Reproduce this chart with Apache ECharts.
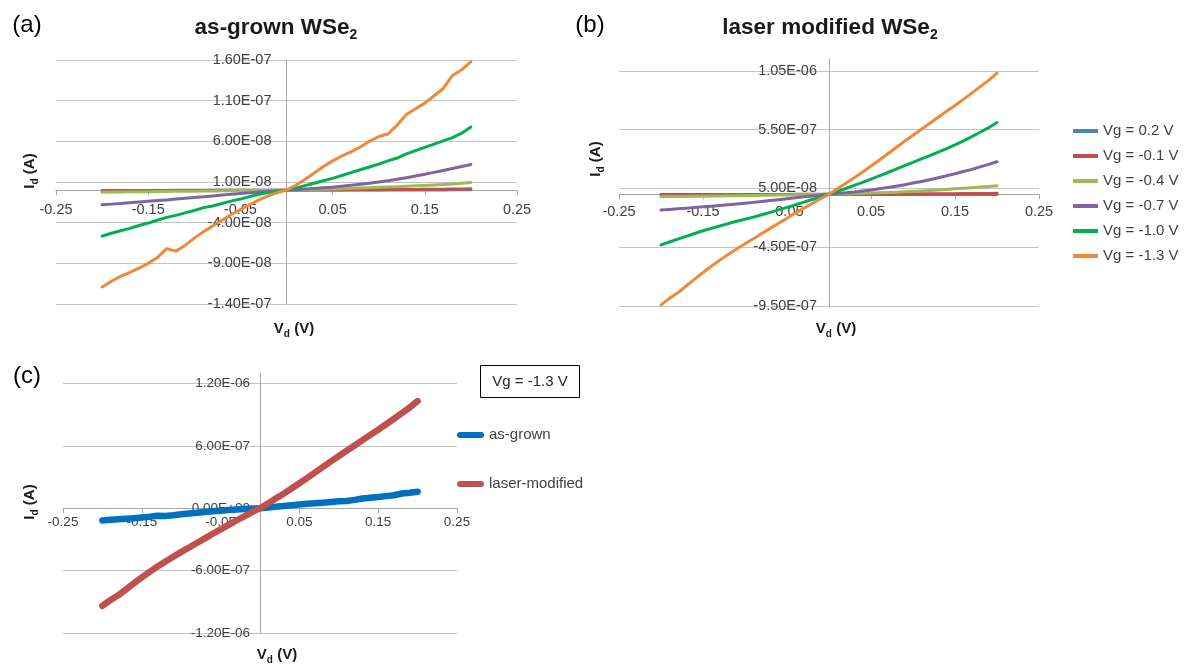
<!DOCTYPE html>
<html>
<head>
<meta charset="utf-8">
<script src="https://cdn.jsdelivr.net/npm/echarts@6/dist/echarts.min.js"></script>
<style>
  html, body { margin: 0; padding: 0; background: #ffffff; }
  #chart { width: 1186px; height: 668px; }
</style>
</head>
<body>
<div id="chart"></div>
<script>
// Drain voltage sweep (V)
const VD = [-0.20, -0.19, -0.18, -0.17, -0.16, -0.15, -0.14, -0.13, -0.12, -0.11,
            -0.10, -0.09, -0.08, -0.07, -0.06, -0.05, -0.04, -0.03, -0.02, -0.01,
             0.00,  0.01,  0.02,  0.03,  0.04,  0.05,  0.06,  0.07,  0.08,  0.09,
             0.10,  0.11,  0.12,  0.13,  0.14,  0.15,  0.16,  0.17,  0.18,  0.19, 0.20];

const VG_NAMES = ['Vg = 0.2 V', 'Vg = -0.1 V', 'Vg = -0.4 V', 'Vg = -0.7 V', 'Vg = -1.0 V', 'Vg = -1.3 V'];
const VG_COLORS = ['#4f81bd', '#c0504d', '#9bbb59', '#8064a2', '#00b050', '#f0883a'];

// As-grown WSe2, drain current in nA
const agVg02  = [-0.6,-0.6,-0.5,-0.5,-0.5,-0.4,-0.4,-0.4,-0.4,-0.3,-0.3,-0.3,-0.2,-0.2,-0.2,-0.1,-0.1,-0.1,-0.1,0,0,
                  0,0,0.1,0.1,0.1,0.1,0.1,0.2,0.2,0.2,0.2,0.2,0.3,0.3,0.3,0.3,0.3,0.4,0.4,0.4];
const agVgm01 = [-0.4,-0.4,-0.4,-0.3,-0.3,-0.3,-0.3,-0.3,-0.2,-0.2,-0.2,-0.2,-0.2,-0.1,-0.1,-0.1,-0.1,-0.1,0,0,0,
                  0.1,0.1,0.2,0.2,0.3,0.3,0.4,0.5,0.5,0.6,0.7,0.7,0.8,0.9,1.0,1.1,1.2,1.3,1.4,1.6];
const agVgm04 = [-2.5,-2.4,-2.3,-2.1,-2.0,-1.9,-1.8,-1.6,-1.5,-1.4,-1.3,-1.1,-1.0,-0.9,-0.8,-0.6,-0.5,-0.4,-0.3,-0.1,0,
                  0.2,0.5,0.8,1.1,1.4,1.8,2.1,2.5,2.9,3.4,3.8,4.3,4.8,5.3,5.8,6.4,7.0,7.6,8.5,9.4];
const agVgm07 = [-18,-17.2,-16.3,-15.4,-14.5,-13.6,-12.8,-12,-11,-10.1,-9.2,-8.2,-7.2,-6.1,-5.1,-4.1,-3.2,-2.3,-1.5,-0.7,0,
                  0.6,1.3,2.0,2.8,3.7,4.8,5.9,7.1,8.5,10,11.6,13.3,15.2,17.3,19.5,21.8,24.2,26.6,29,31.5];
const agVgm10 = [-56.5,-53,-50,-47,-43.5,-40.5,-37,-33.5,-31,-28,-25,-21.5,-19.5,-16.5,-13.5,-11,-8,-5,-3,-1.5,0,
                  2.5,5.5,8.5,11.5,14.5,18,21.5,25,28.5,32,36,39.5,44.5,48.5,52.5,56.5,60.5,64.5,70,77.5];
const agVgm13 = [-119,-112,-106,-101,-96,-90,-83,-72,-75,-68,-59,-51,-44,-37,-30,-24,-18,-12,-7,-3,0,
                  6,13,21,29,36,42,47,53,60,66,69,80,93,100,107,116,125,141,148,158];

// Laser-modified WSe2, drain current in nA
const lmVg02  = [-6,-6,-6,-5,-5,-5,-5,-4,-4,-4,-4,-3,-3,-3,-2,-2,-2,-1,-1,-1,0,
                  0,0,0,-1,-1,-1,-1,-1,-2,-2,-2,-2,-2,-2,-3,-3,-3,-3,-3,-3];
const lmVgm01 = [-3,-3,-3,-3,-2,-2,-2,-2,-2,-2,-1,-1,-1,-1,-1,-1,0,0,0,0,0,
                  0,1,1,1,2,2,2,3,3,3,4,4,4,5,5,6,6,7,7,8];
const lmVgm04 = [-21,-20,-19,-18,-17,-16,-15,-14,-13,-12,-11,-10,-9,-8,-7,-6,-5,-4,-3,-1,0,
                  2,4,6,8,10,12,15,18,21,25,28,32,36,41,46,51,56,61,66,72];
const lmVgm07 = [-134,-129,-124,-119,-113,-107,-101,-95,-89,-83,-76,-69,-62,-54,-46,-38,-30,-22,-14,-7,0,
                  6,12,19,27,36,46,57,69,81,95,109,124,140,157,174,193,212,233,254,276];
const lmVgm10 = [-431,-406,-382,-358,-334,-310,-290,-270,-250,-230,-212,-194,-174,-154,-133,-112,-90,-67,-45,-22,0,
                  24,49,75,101,128,156,185,214,243,272,300,328,358,388,420,454,490,527,566,610];
const lmVgm13 = [-940,-885,-838,-780,-722,-665,-612,-560,-512,-466,-420,-378,-334,-290,-246,-204,-160,-118,-78,-38,0,
                  46,93,140,190,240,292,345,398,450,502,553,603,655,705,755,807,860,915,968,1030];

// Axis ticks
const VD_TICKS = [-0.25, -0.15, -0.05, 0.05, 0.15, 0.25];
const AG_TICKS = [-1.4e-7, -9e-8, -4e-8, 1e-8, 6e-8, 1.1e-7, 1.6e-7];
const LM_TICKS = [-9.5e-7, -4.5e-7, 5e-8, 5.5e-7, 1.05e-6];
const CMP_TICKS = [-1.2e-6, -6e-7, 0, 6e-7, 1.2e-6];

const FONT = "'Liberation Sans', Arial, sans-serif";
const GRID_C = '#c4c4c4';
const AXIS_C = '#a8a8a8';
const LABEL_C = '#404040';

const GRIDS = [
  { left: 56, top: 60, width: 461, height: 244 },
  { left: 619, top: 59, width: 420, height: 247 },
  { left: 63, top: 373, width: 394, height: 260 }
];

function sci(v) {
  const parts = Number(v).toExponential(2).toUpperCase().split('E');
  const e = parseInt(parts[1], 10);
  return parts[0] + 'E' + (e < 0 ? '-' : '+') + String(Math.abs(e)).padStart(2, '0');
}

function pairs(ys) {
  return VD.map((v, i) => [v, ys[i] * 1e-9]);
}

function xAxisFor(g, size, margin) {
  return {
    type: 'value', gridIndex: g, min: -0.25, max: 0.25, position: 'bottom', offset: 0,
    axisLine: { show: true, onZero: false, lineStyle: { color: AXIS_C, width: 1 } },
    axisTick: { show: true, length: 5, inside: false, customValues: VD_TICKS, lineStyle: { color: AXIS_C } },
    axisLabel: {
      customValues: VD_TICKS, formatter: v => v.toFixed(2), showMinLabel: true, showMaxLabel: true,
      fontFamily: FONT, fontSize: size, color: LABEL_C, margin: margin
    },
    splitLine: { show: false }
  };
}

function yAxisFor(g, lo, hi, ticks, size, margin) {
  return {
    type: 'value', gridIndex: g, min: lo, max: hi, position: 'left', offset: 0,
    axisLine: { show: true, onZero: false, lineStyle: { color: AXIS_C, width: 1 } },
    axisTick: { show: false, customValues: ticks },
    axisLabel: {
      customValues: ticks, formatter: sci, showMinLabel: true, showMaxLabel: true,
      fontFamily: FONT, fontSize: size, color: LABEL_C, margin: margin
    },
    splitLine: { show: true, lineStyle: { color: GRID_C, width: 1 } }
  };
}

function lineSeries(name, color, data, g, width) {
  return {
    type: 'line', name: name, xAxisIndex: g, yAxisIndex: g,
    data: pairs(data), showSymbol: false, symbol: 'none', animation: false,
    color: color,
    lineStyle: { color: color, width: width, cap: 'round', join: 'round' },
    emphasis: { disabled: true }
  };
}

const agSets = [agVg02, agVgm01, agVgm04, agVgm07, agVgm10, agVgm13];
const lmSets = [lmVg02, lmVgm01, lmVgm04, lmVgm07, lmVgm10, lmVgm13];

const series = [];
agSets.forEach((d, i) => series.push(lineSeries(VG_NAMES[i], VG_COLORS[i], d, 0, 3)));
lmSets.forEach((d, i) => series.push(lineSeries(VG_NAMES[i], VG_COLORS[i], d, 1, 3)));
series.push(lineSeries('as-grown', '#0070c0', agVgm13, 2, 6.5));
series.push(lineSeries('laser-modified', '#c0504d', lmVgm13, 2, 6.5));

// Text helpers: subscripted labels
function subText(x, y, main, sub, tail, size, subSize, weight, rotate) {
  const lh = Math.round(size * 1.3);
  const base = { fontSize: size, fontFamily: FONT, fontWeight: weight, fill: '#1a1a1a', lineHeight: lh };
  const s = { fontSize: subSize, fontFamily: FONT, fontWeight: weight, fill: '#1a1a1a', lineHeight: lh, verticalAlign: 'bottom' };
  return {
    type: 'text', x: x, y: y, rotation: rotate ? Math.PI / 2 : 0, z: 10,
    style: {
      text: '{m|' + main + '}{s|' + sub + '}' + (tail ? '{m|' + tail + '}' : ''),
      align: 'center', verticalAlign: 'middle',
      rich: { m: base, s: s }
    }
  };
}
function plainText(x, y, text, size, weight, color) {
  return {
    type: 'text', x: x, y: y, z: 10,
    style: { text: text, fontSize: size, fontFamily: FONT, fontWeight: weight, fill: color, align: 'center', verticalAlign: 'middle' }
  };
}

const graphic = [
  plainText(27, 25, '(a)', 24, 'normal', '#000'),
  plainText(590, 25, '(b)', 24, 'normal', '#000'),
  plainText(27, 376, '(c)', 24, 'normal', '#000'),
  subText(276, 28, 'as-grown WSe', '2', '', 22.5, 14, 'bold', false),
  subText(830, 28, 'laser modified WSe', '2', '', 22.5, 14, 'bold', false),
  subText(294, 329, 'V', 'd', ' (V)', 15, 10, 'bold', false),
  subText(836, 329, 'V', 'd', ' (V)', 15, 10, 'bold', false),
  subText(277, 655, 'V', 'd', ' (V)', 15, 10, 'bold', false),
  subText(30, 171, 'I', 'd', ' (A)', 15, 10, 'bold', true),
  subText(596, 159, 'I', 'd', ' (A)', 15, 10, 'bold', true),
  subText(30, 502, 'I', 'd', ' (A)', 15, 10, 'bold', true),
  {
    type: 'rect', z: 10,
    shape: { x: 480.5, y: 365.5, width: 99, height: 32 },
    style: { fill: '#ffffff', stroke: '#000000', lineWidth: 1 }
  },
  plainText(530, 381.5, 'Vg = -1.3 V', 15, 'normal', '#262626')
];

const pill = 'path://M3,0 L24,0 A3,3 0 0 1 24,6 L3,6 A3,3 0 0 1 3,0 Z';

const option = {
  animation: false,
  backgroundColor: '#ffffff',
  grid: GRIDS.map(g => Object.assign({ outerBoundsMode: 'none', containLabel: false }, g)),
  xAxis: [xAxisFor(0, 14.5, 12), xAxisFor(1, 14.5, 10), xAxisFor(2, 13.5, 7.5)],
  yAxis: [
    yAxisFor(0, -1.4e-7, 1.6e-7, AG_TICKS, 14.5, 15),
    yAxisFor(1, -9.5e-7, 1.15e-6, LM_TICKS, 14.5, 12),
    yAxisFor(2, -1.2e-6, 1.3e-6, CMP_TICKS, 13.5, 10)
  ],
  legend: [
    {
      data: VG_NAMES, orient: 'vertical', left: 1073, top: 123, padding: 0,
      itemWidth: 25, itemHeight: 4, itemGap: 9, icon: 'rect', selectedMode: false,
      textStyle: { fontFamily: FONT, fontSize: 15, color: LABEL_C, lineHeight: 16 }
    },
    {
      data: ['as-grown', 'laser-modified'], orient: 'vertical', left: 457, top: 427, padding: 0,
      itemWidth: 27, itemHeight: 7, itemGap: 33, icon: pill, selectedMode: false,
      textStyle: { fontFamily: FONT, fontSize: 15, color: LABEL_C, lineHeight: 16 }
    }
  ],
  tooltip: { show: false },
  graphic: graphic,
  series: series
};

const chart = echarts.init(document.getElementById('chart'), null, { renderer: 'canvas' });
chart.setOption(option);

// Cross the axes at the origin: shift each axis (line, ticks and labels) to the zero point
const xOffsets = [], yOffsets = [];
GRIDS.forEach((g, i) => {
  const p = chart.convertToPixel({ gridIndex: i }, [0, 0]);
  yOffsets.push({ offset: -(p[0] - g.left) });
  xOffsets.push({ offset: -((g.top + g.height) - p[1]) });
});
chart.setOption({ xAxis: xOffsets, yAxis: yOffsets });
</script>
</body>
</html>
